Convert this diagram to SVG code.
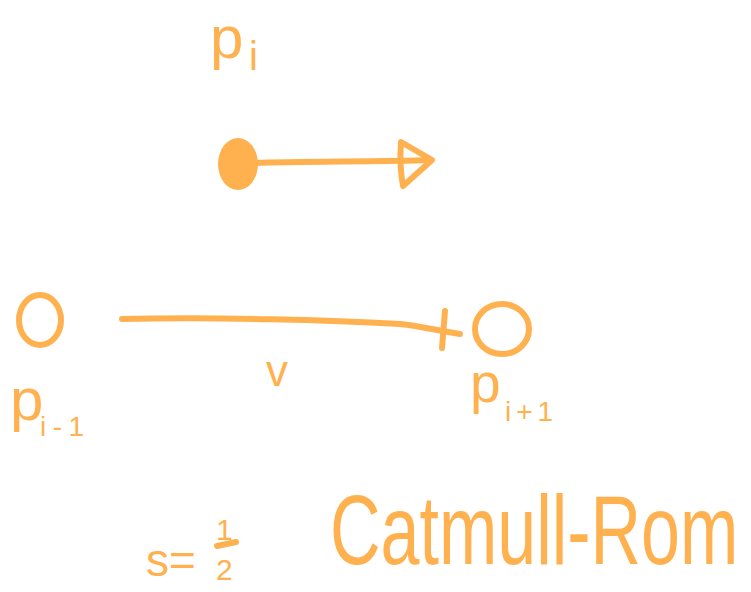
<svg xmlns="http://www.w3.org/2000/svg" width="751" height="592" viewBox="0 0 751 592">
<style>
.ink{fill:none;stroke:#FFB150;stroke-width:6;stroke-linecap:round;stroke-linejoin:round}
.t{fill:#FFB150;font-family:"Liberation Sans",Arial,sans-serif}
</style>
<rect width="751" height="592" fill="#ffffff"/>
<g id="p_i">
<text class="t" x="210" y="58" font-size="60">p</text>
<text class="t" x="249" y="70" font-size="40">i</text>
<ellipse cx="238" cy="164" rx="20" ry="26" fill="#FFB150"/>
</g>
<g id="p_im1">
<ellipse class="ink" cx="40" cy="320" rx="21" ry="25"/>
<text class="t" x="10" y="420" font-size="60">p</text>
<text class="t" x="40" y="436" font-size="28" textLength="44" lengthAdjust="spacing">i-1</text>
</g>
<g id="p_ip1">
<ellipse class="ink" cx="502" cy="329" rx="27" ry="25"/>
<text class="t" x="470" y="402" font-size="55">p</text>
<text class="t" x="505" y="421" font-size="28" textLength="48" lengthAdjust="spacing">i+1</text>
</g>
<g id="connectors">
<path class="ink" d="M255 163 C300 161 380 162 430 160"/>
<path class="ink" d="M401 142 L432 160 L403 186 C400 170 400 155 401 142 Z"/>
<path class="ink" d="M122 319 C220 317 330 320 400 324 C420 326 440 331 460 334"/>
<path class="ink" d="M445 311 L442 348"/>
<text class="t" x="266" y="386" font-size="44">v</text>
</g>
<g id="labels">
<text class="t" x="146" y="576" font-size="46">s=</text>
<text class="t" x="216" y="540" font-size="30">1</text>
<path class="ink" d="M217 546 L236 542" stroke-width="4"/>
<text class="t" x="216" y="580" font-size="30">2</text>
<text class="t" x="0" y="0" font-size="70" transform="translate(330,564) scale(1,1.4)">Catmull-Rom</text>
</g>
</svg>
